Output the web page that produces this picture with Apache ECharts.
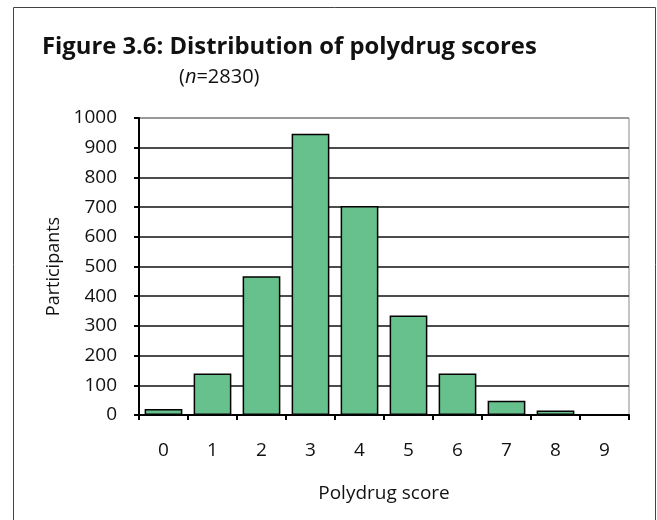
<!DOCTYPE html>
<html>
<head>
<meta charset="utf-8">
<title>Distribution of polydrug scores</title>
<script src="https://cdn.jsdelivr.net/npm/echarts@6/dist/echarts.min.js"></script>
<style>
    html, body { margin: 0; padding: 0; background: #fff; }
    #chart { width: 657px; height: 520px; }
</style>
</head>
<body>
<div id="chart"></div>
<script>
// 数据
const scores = ['0', '1', '2', '3', '4', '5', '6', '7', '8', '9'];
const participants = [20, 140, 467, 947, 704, 335, 140, 48, 15, 2];
const yTicks = { min: 0, max: 1000, step: 100 };

const FONT = '"Open Sans", "Noto Sans", sans-serif';

function renderChart() {
    const chartDom = document.getElementById('chart');
    const myChart = echarts.init(chartDom);

    // 最上面那条线是灰色的绘图区边框
    const nLines = (yTicks.max - yTicks.min) / yTicks.step + 1;
    const splitColors = [];
    for (let i = 0; i < nLines; i++) {
        splitColors.push(i === nLines - 1 ? '#8a8a8a' : '#111');
    }

    const option = {
        backgroundColor: '#fff',
        animation: false,
        title: [
            {
                text: 'Figure 3.6: Distribution of polydrug scores',
                left: 42,
                top: 35,
                padding: 0,
                textStyle: { fontFamily: FONT, fontSize: 23.8, fontWeight: 'bold', color: '#111' }
            },
            {
                text: '({i|n}=2830)',
                left: 179,
                top: 67,
                padding: 0,
                textStyle: {
                    fontFamily: FONT, fontSize: 20, fontWeight: 'normal', color: '#111',
                    rich: { i: { fontFamily: FONT, fontSize: 20, fontStyle: 'italic', color: '#111' } }
                }
            }
        ],
        graphic: [
            {
                type: 'rect',
                shape: { x: 13.5, y: 7.5, width: 642, height: 520 },
                style: { fill: 'none', stroke: '#444', lineWidth: 1 },
                silent: true
            }
        ],
        grid: {
            left: 139,
            right: 28,
            top: 118,
            bottom: 105,
            show: true,
            borderColor: '#8a8a8a',
            borderWidth: 1
        },
        xAxis: {
            type: 'category',
            data: scores,
            name: 'Polydrug score',
            nameLocation: 'middle',
            nameGap: 69,
            nameTextStyle: { fontFamily: FONT, fontSize: 19, color: '#111' },
            axisLine: { lineStyle: { color: '#000', width: 2 } },
            axisTick: { show: true, length: 5, lineStyle: { color: '#000', width: 2 } },
            axisLabel: { fontFamily: FONT, fontSize: 19, color: '#111', margin: 26 },
            splitLine: { show: false }
        },
        yAxis: {
            type: 'value',
            min: yTicks.min,
            max: yTicks.max,
            interval: yTicks.step,
            name: 'Participants',
            nameLocation: 'middle',
            nameGap: 67,
            nameTextStyle: { fontFamily: FONT, fontSize: 18, color: '#111' },
            axisLine: { show: true, lineStyle: { color: '#000', width: 2 } },
            axisTick: { show: true, length: 5, lineStyle: { color: '#000', width: 2 } },
            axisLabel: {
                fontFamily: FONT, fontSize: 19, color: '#111', margin: 22,
                formatter: v => String(v)
            },
            splitLine: { show: true, lineStyle: { color: splitColors, width: 1.6 } }
        },
        series: [
            {
                name: 'Participants',
                type: 'bar',
                data: participants,
                barCategoryGap: '23%',
                itemStyle: {
                    color: '#66c18c',
                    borderColor: '#000',
                    borderWidth: 1.5
                }
            }
        ]
    };

    myChart.setOption(option);
}

document.addEventListener('DOMContentLoaded', renderChart);
</script>
</body>
</html>
